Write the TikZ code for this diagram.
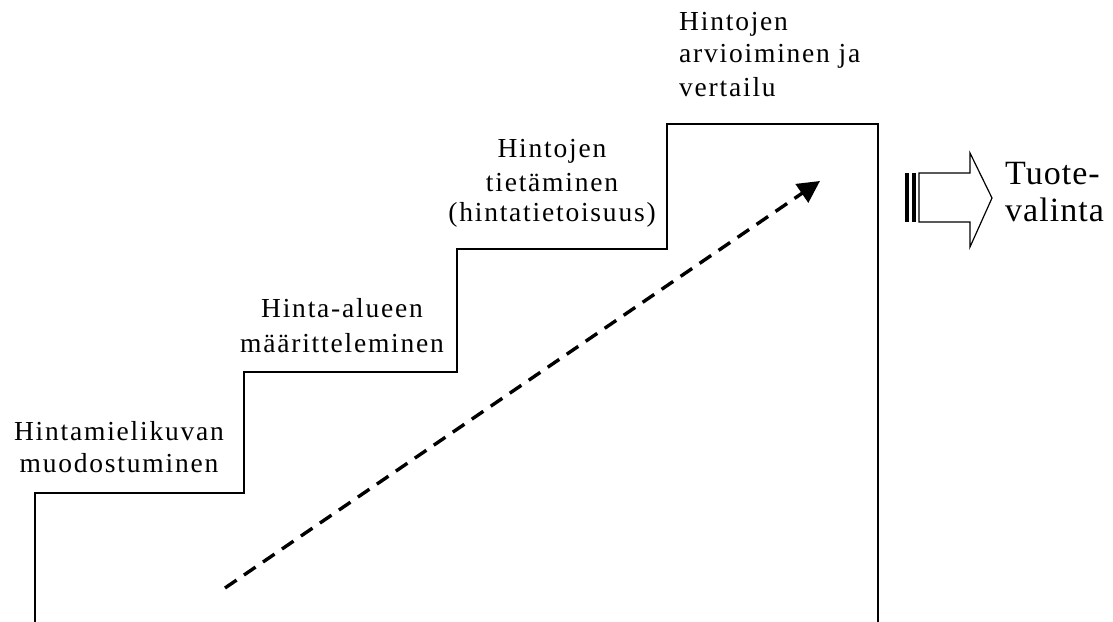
\documentclass[tikz,border=0pt]{standalone}
\usepackage{fontspec}
\setmainfont{Liberation Serif}
\newfontfamily\labelfont{Liberation Serif}[LetterSpace=6.5]
\newfontfamily\bigfont{Liberation Serif}[LetterSpace=3]
\usetikzlibrary{arrows.meta}

\begin{document}
\begin{tikzpicture}[x=1bp, y=-1bp,
  stair/.style={line width=2bp, line join=miter, line cap=butt},
  steplabel/.style={font=\labelfont\fontsize{27.5bp}{33bp}\selectfont,
    inner sep=0pt, align=center, anchor=base},
  trend/.style={line width=3.4bp, dash pattern=on 14bp off 9bp,
    -{Triangle[length=22bp, width=22bp]}},
  blockarrow/.style={line width=1.2bp, line join=miter}]

\useasboundingbox (0,0) rectangle (1113,622);

% the staircase outline
\coordinate (s0) at (35,622);
\coordinate (s1) at (35,493);
\coordinate (s2) at (244,493);
\coordinate (s3) at (244,372);
\coordinate (s4) at (457,372);
\coordinate (s5) at (457,249);
\coordinate (s6) at (667,249);
\coordinate (s7) at (667,124);
\coordinate (s8) at (878,124);
\coordinate (s9) at (878,622);
\draw[stair] (s0) -- (s1) -- (s2) -- (s3) -- (s4) -- (s5) -- (s6) -- (s7) -- (s8) -- (s9);

% step labels (anchored at the baseline of their last line)
\node[steplabel] (l1) at (119,472) {Hintamielikuvan\\[-1bp]muodostuminen};
\node[steplabel] (l2) at (342,352) {Hinta-alueen\\[1bp]määritteleminen};
\node[steplabel] (l3) at (552,222) {Hintojen\\[1bp]tietäminen\\[-3bp](hintatietoisuus)};
\node[steplabel, align=left, anchor=base west] (l4) at (679,97)
  {Hintojen\\[-1bp]arvioiminen ja\\[1bp]vertailu};

% rising dashed trend arrow
\coordinate (dstart) at (225,588);
\coordinate (dend) at (820,181);
\draw[trend] (dstart) -- (dend);

% striped block arrow
\fill (905,173) rectangle (909,222);
\fill (912,173) rectangle (915.5,222);
\draw[blockarrow] (919,173) -- (970,173) -- (970,153) -- (992,198)
  -- (970,247) -- (970,222) -- (919,222) -- cycle;

\node[inner sep=0pt, align=left, anchor=base west,
  font=\bigfont\fontsize{34bp}{37bp}\selectfont] (choice) at (1005,222)
  {Tuote-\\valinta};
\end{tikzpicture}
\end{document}
